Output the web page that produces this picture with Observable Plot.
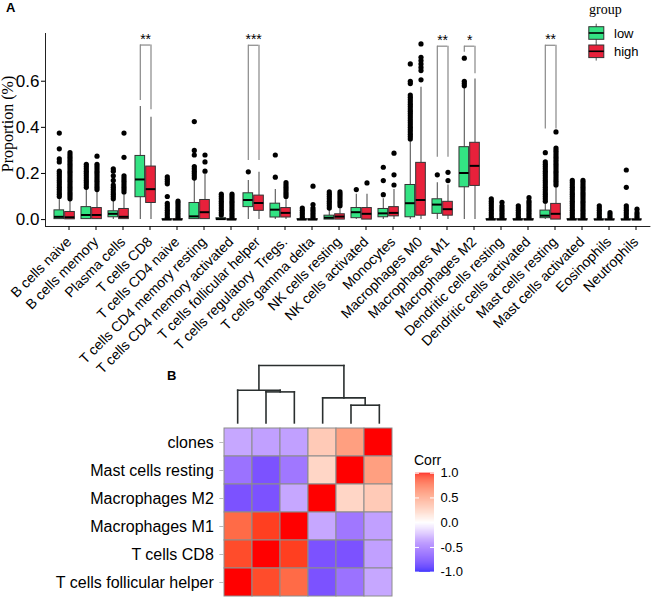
<!DOCTYPE html>
<html><head><meta charset="utf-8">
<script src="https://cdn.jsdelivr.net/npm/d3@7"></script>
<script src="https://cdn.jsdelivr.net/npm/@observablehq/plot@0.6"></script>
<style>
body{margin:0;background:#fff;}
#root{position:relative;width:653px;height:600px;overflow:hidden;font-family:Arial,"Liberation Sans",sans-serif;color:#000;}
#root > *{position:absolute;}
svg text{white-space:pre;}
</style></head><body><div id="root"></div>
<script>
// ---------------- Panel A data ----------------
const categories = ["B cells naive","B cells memory","Plasma cells","T cells CD8","T cells CD4 naive","T cells CD4 memory resting","T cells CD4 memory activated","T cells follicular helper","T cells regulatory  Tregs.","T cells gamma delta","NK cells resting","NK cells activated","Monocytes","Macrophages M0","Macrophages M1","Macrophages M2","Dendritic cells resting","Dendritic cells activated","Mast cells resting","Mast cells activated","Eosinophils","Neutrophils"];
const groups = ["low","high"];
// [q1, median, q3, lower whisker, upper whisker]
const lowStats = [
  [0.002,0.012,0.040,0,0.095],[0.002,0.020,0.054,0,0.13],[0.010,0.025,0.036,0,0.08],[0.097,0.174,0.276,0,0.49],
  [0,0,0.002,0,0.005],[0.002,0.014,0.072,0,0.172],[0,0.002,0.006,0,0.015],[0.054,0.085,0.114,0,0.17],
  [0.009,0.043,0.069,0,0.13],[0,0,0.002,0,0.004],[0,0.008,0.017,0,0.04],[0.006,0.032,0.050,0,0.11],
  [0.010,0.027,0.046,0,0.09],[0.010,0.071,0.150,0,0.34],[0.025,0.065,0.088,0,0.16],[0.140,0.202,0.314,0,0.574],
  [0,0,0.002,0,0.005],[0,0,0.002,0,0.004],[0.006,0.017,0.039,0,0.07],[0,0,0.002,0,0.004],
  [0,0,0.001,0,0.003],[0,0,0.001,0,0.003]
];
const highStats = [
  [0.001,0.010,0.033,0,0.08],[0.002,0.020,0.050,0,0.12],[0.002,0.012,0.046,0,0.11],[0.072,0.132,0.230,0,0.444],
  [0,0,0.002,0,0.004],[0.002,0.032,0.085,0,0.195],[0,0,0.002,0,0.004],[0.038,0.072,0.104,0,0.205],
  [0.009,0.029,0.050,0,0.09],[0,0,0.002,0,0.004],[0,0.013,0.023,0,0.05],[0,0.025,0.050,0,0.11],
  [0.014,0.029,0.054,0,0.13],[0.017,0.085,0.246,0,0.574],[0.017,0.045,0.077,0,0.15],[0.146,0.233,0.333,0,0.61],
  [0,0,0.002,0,0.004],[0,0,0.002,0,0.004],[0,0.025,0.068,0,0.14],[0,0,0.002,0,0.004],
  [0,0,0.001,0,0.003],[0,0,0.001,0,0.003]
];
const lowOutliers = [
  [0.10,0.11,0.12,0.13,0.14,0.15,0.16,0.17,0.18,0.19,0.20,0.21,0.25,0.263,0.307,0.375],
  [0.14,0.15,0.16,0.17,0.18,0.19,0.20,0.21,0.22,0.23,0.24],
  [0.09,0.10,0.11,0.12,0.13,0.14,0.15,0.17,0.19,0.21,0.22],
  [],
  [0.01,0.02,0.03,0.04,0.05,0.06,0.07,0.10,0.155,0.165,0.175,0.185],
  [0.18,0.19,0.20,0.21,0.22,0.23,0.28,0.30,0.425],
  [0.02,0.03,0.04,0.05,0.06,0.07,0.08,0.09,0.10,0.11],
  [0.207],
  [0.184,0.28],
  [0.01,0.02,0.03,0.04,0.05],
  [0.05,0.06,0.07,0.08,0.09,0.10,0.11,0.12],
  [0.13],
  [0.108,0.169,0.227],
  [0.35,0.36,0.37,0.38,0.39,0.40,0.41,0.42,0.43,0.44,0.45,0.46,0.47,0.48,0.49,0.50,0.51,0.52,0.53,0.54,0.59,0.60,0.675],
  [0.194],
  [0.58,0.59,0.60,0.70],
  [0.01,0.02,0.03,0.04,0.05,0.06,0.07,0.08,0.09],
  [0.01,0.02,0.03,0.04,0.05,0.06],
  [0.08,0.09,0.10,0.11,0.12,0.13,0.14,0.15,0.16,0.17,0.18,0.19,0.20,0.21,0.22,0.23,0.24,0.25,0.29],
  [0.01,0.02,0.03,0.04,0.05,0.06,0.07,0.08,0.09,0.10,0.11,0.12,0.13,0.14,0.15,0.16,0.17],
  [0.01,0.02,0.03,0.04,0.05,0.06],
  [0.01,0.02,0.03,0.04,0.05,0.06,0.14,0.215]
];
const highOutliers = [
  [0.09,0.10,0.11,0.12,0.13,0.14,0.15,0.16,0.17,0.18,0.19,0.20,0.21,0.22,0.23,0.24,0.25,0.26,0.27,0.28,0.29],
  [0.13,0.14,0.15,0.16,0.17,0.18,0.19,0.20,0.21,0.22,0.23,0.24,0.275],
  [0.12,0.13,0.14,0.15,0.16,0.17,0.18,0.19,0.27,0.375],
  [],
  [0.01,0.02,0.03,0.04,0.05,0.06,0.07,0.08],
  [0.21,0.25,0.28],
  [0.01,0.02,0.03,0.04,0.05,0.06,0.07,0.08,0.09,0.10,0.11],
  [],
  [0.10,0.11,0.12,0.13,0.14,0.15,0.16],
  [0.01,0.02,0.03,0.04,0.05,0.065,0.145],
  [0.06,0.07,0.08,0.09,0.10,0.11,0.12],
  [0.159],
  [0.15,0.194,0.288],
  [0.606,0.646,0.66,0.675,0.69,0.704,0.762],
  [0.169,0.205],
  [],
  [0.01,0.02,0.03,0.04,0.05,0.06,0.075],
  [0.01,0.02,0.03,0.04,0.05,0.06,0.07,0.08,0.095],
  [0.15,0.16,0.17,0.18,0.19,0.20,0.21,0.22,0.23,0.24,0.25,0.26,0.27,0.28,0.29,0.30,0.31,0.38],
  [0.01,0.02,0.03,0.04,0.05,0.06,0.07,0.08,0.09,0.10,0.11,0.12,0.13,0.14,0.15,0.16,0.17],
  [0.01,0.02,0.03],
  [0.01,0.02,0.03,0.045]
];
const sigCategories = ["T cells CD8","T cells follicular helper","Macrophages M1","Macrophages M2","Mast cells resting"];
const sigLabels = ["**","***","**","*","**"];
const sigLowLeg = [0.516,0.256,0.27,0.726,0.393];
const sigHighLeg = [0.476,0.256,0.27,0.632,0.393];
const sigTop = [0.757,0.756,0.752,0.752,0.756];
const yTicks = [0, 0.2, 0.4, 0.6];

// ---------------- Panel B data ----------------
const heatRows = ["clones","Mast cells resting","Macrophages M2","Macrophages M1","T cells CD8","T cells follicular helper"];
const heatCols = ["T cells follicular helper","T cells CD8","Macrophages M1","Macrophages M2","Mast cells resting","clones"];
const corrValues = [
  [-0.37,-0.40,-0.40, 0.28, 0.50, 1.00],
  [-0.60,-0.74,-0.58, 0.22, 1.00, 0.50],
  [-0.74,-0.74,-0.37, 1.00, 0.22, 0.28],
  [ 0.74, 0.90, 1.00,-0.37,-0.58,-0.40],
  [ 0.86, 1.00, 0.90,-0.74,-0.74,-0.40],
  [ 1.00, 0.86, 0.74,-0.74,-0.60,-0.37]
];
// hclust-style merge table over heatCols (negative = leaf index, positive = earlier merge)
const dendroMerge = [[-2,-3],[-1,1],[-5,-6],[-4,3],[2,4]];
const dendroHeight = [3.10,3.27,1.77,2.50,5.74];
const corrTicks = [-1,-0.5,0,0.5,1];

// ---------------- styles ----------------
const GREEN = "#33E383", RED = "#E8213B";
const colorA = {domain: groups, range: [GREEN, RED]};
const corrColor = {type:"linear", domain:[-1,0,1], range:["#0000FF","#FFFFFF","#FF0000"], interpolate:"lab"};

const root = document.getElementById("root");
function place(el, left, top){ el.style.left = left+"px"; el.style.top = top+"px"; root.appendChild(el); return el; }
function label(text, left, top, css){ const d = document.createElement("div"); d.textContent = text; d.style.cssText = "position:absolute;white-space:pre;"+css; return place(d, left, top); }

// ---------------- Panel A ----------------
const boxes = [], outs = [];
categories.forEach((c,i) => {
  [[lowStats,"low"],[highStats,"high"]].forEach(([s,g]) => {
    const [q1,med,q3,wlo,whi] = s[i];
    boxes.push({cat:c, group:g, q1, med, q3, wlo, whi});
  });
  lowOutliers[i].forEach(v => outs.push({cat:c, group:"low", v}));
  highOutliers[i].forEach(v => outs.push({cat:c, group:"high", v}));
});
const sig = sigCategories.map((c,i) => ({cat:c, label:sigLabels[i], lowLeg:sigLowLeg[i], highLeg:sigHighLeg[i], top:sigTop[i]}));

const half = 13.68;
const geo = {low:{dx:-5.7, iL:half-10.7, iR:half+0.7}, high:{dx:5, iL:half, iR:half-10}};
function groupMarks(g){
  const b = boxes.filter(d => d.group === g), o = outs.filter(d => d.group === g), G = geo[g];
  return [
    Plot.ruleX(b, {x:"cat", y1:"wlo", y2:"q1", dx:G.dx, stroke:"#555", strokeWidth:1.1}),
    Plot.ruleX(b, {x:"cat", y1:"q3", y2:"whi", dx:G.dx, stroke:"#555", strokeWidth:1.1}),
    Plot.barY(b, {x:"cat", y1:"q1", y2:"q3", fill:"group", stroke:"#333", strokeWidth:1, insetLeft:G.iL, insetRight:G.iR}),
    Plot.tickY(b, {x:"cat", y:"med", stroke:"#000", strokeWidth:2, insetLeft:G.iL, insetRight:G.iR}),
    Plot.dot(o, {x:"cat", y:"v", r:2.6, fill:"#000", stroke:null, dx:G.dx})
  ];
}

const plotA = Plot.plot({
  width:653, height:385,
  marginLeft:45, marginRight:3.6, marginTop:33, marginBottom:159,
  style:{fontFamily:"Arial, 'Liberation Sans', sans-serif", color:"#000", background:"transparent"},
  x:{domain:categories, padding:0, insetLeft:2.3},
  y:{domain:[-0.03,0.807]},
  color:colorA,
  marks:[
    Plot.frame({anchor:"left", stroke:"#222"}),
    Plot.frame({anchor:"bottom", stroke:"#222"}),
    Plot.axisY({ticks:yTicks, tickFormat:d3.format(".1f"), fontSize:17, tickSize:4, tickPadding:2, label:null}),
    Plot.axisX({tickRotate:-45, fontSize:14, tickSize:4, tickPadding:9, dx:4, label:null}),
    ...groupMarks("low"),
    ...groupMarks("high"),
    Plot.ruleX(sig, {x:"cat", y1:"lowLeg", y2:"top", dx:geo.low.dx, stroke:"#888", strokeWidth:1.2}),
    Plot.ruleX(sig, {x:"cat", y1:"highLeg", y2:"top", dx:geo.high.dx, stroke:"#888", strokeWidth:1.2}),
    Plot.tickY(sig, {x:"cat", y:"top", stroke:"#888", strokeWidth:1.2, insetLeft:half+geo.low.dx, insetRight:half-geo.high.dx}),
    Plot.text(sig, {x:"cat", y:"top", text:"label", dx:-0.4, dy:-1, lineAnchor:"bottom", fontSize:14, fill:"#000"})
  ]
});
place(plotA, 0, 0);

label("A", 6, 0, "font-size:13px;font-weight:bold;");
label("Proportion (%)", -42, 115, "font-family:'Liberation Serif','Times New Roman',serif;font-size:16px;width:100px;text-align:center;transform:rotate(-90deg);");

// group legend
label("group", 589, 2, "font-family:'Liberation Serif','Times New Roman',serif;font-size:14px;");
const legSvg = d3.create("svg").attr("width",70).attr("height",45).style("position","absolute");
groups.forEach((g,i) => {
  const y0 = 26.7 + i*18.3 - 22;
  const k = legSvg.append("g");
  k.append("line").attr("x1",8.2).attr("x2",8.2).attr("y1",y0-3).attr("y2",y0+15.6).attr("stroke","#555");
  k.append("rect").attr("x",0.8).attr("y",y0).attr("width",15).attr("height",12.6).attr("fill",colorA.range[i]).attr("stroke","#333");
  k.append("line").attr("x1",0.8).attr("x2",15.8).attr("y1",y0+6.3).attr("y2",y0+6.3).attr("stroke","#000").attr("stroke-width",1.6);
  k.append("text").attr("x",26).attr("y",y0+6.3).attr("dy","0.35em").attr("font-size",13).attr("font-family","Arial, 'Liberation Sans', sans-serif").text(g);
});
place(legSvg.node(), 588, 22);

// ---------------- Panel B ----------------
label("B", 167, 368, "font-size:13px;font-weight:bold;");

// dendrogram
const nodePos = [], nodeH = [];
const posOf = r => r < 0 ? -r - 1 : nodePos[r-1];
const hOf = r => r < 0 ? 0 : nodeH[r-1];
const segs = [];
dendroMerge.forEach(([a,b],k) => {
  const pa = posOf(a), pb = posOf(b), h = dendroHeight[k];
  segs.push({x1:pa,y1:hOf(a),x2:pa,y2:h},{x1:pb,y1:hOf(b),x2:pb,y2:h},{x1:pa,y1:h,x2:pb,y2:h});
  nodePos.push((pa+pb)/2); nodeH.push(h);
});
const dendro = Plot.plot({
  width:170, height:59.4, marginLeft:0, marginRight:0, marginTop:2, marginBottom:0,
  style:{background:"transparent", overflow:"visible"},
  x:{domain:[-0.5, heatCols.length-0.5], axis:null},
  y:{domain:[0, d3.max(dendroHeight)], axis:null},
  marks:[Plot.link(segs, {x1:"x1", y1:"y1", x2:"x2", y2:"y2", stroke:"#2a2f2f", strokeWidth:1.6, strokeLinecap:"square"})]
});
place(dendro, 223.3, 363.3);

// heatmap
const heat = [];
heatRows.forEach((r,i) => heatCols.forEach((c,j) => heat.push({row:r, col:c, v:corrValues[i][j]})));
const heatPlot = Plot.plot({
  width:400, height:180, marginLeft:223.3, marginRight:6.7, marginTop:7.3, marginBottom:3.3,
  style:{fontFamily:"Arial, 'Liberation Sans', sans-serif", color:"#000", background:"transparent"},
  x:{domain:heatCols, padding:0, axis:null},
  y:{domain:heatRows, padding:0},
  color:corrColor,
  marks:[
    Plot.axisY({fontSize:16, tickSize:4, tickPadding:6, label:null, stroke:"#bbb"}),
    Plot.cell(heat, {x:"col", y:"row", fill:"v", stroke:"#8c8c8c", strokeWidth:1})
  ]
});
place(heatPlot, 0, 420);

// Corr legend
label("Corr", 414, 452, "font-size:14px;");
const legendSteps = d3.range(-1, 1, 0.02);
const corrLegend = Plot.plot({
  width:60, height:130, marginLeft:10, marginRight:31, marginTop:22.7, marginBottom:8.3,
  style:{fontFamily:"Arial, 'Liberation Sans', sans-serif", color:"#000", background:"transparent"},
  x:{domain:[0,1], axis:null},
  y:{domain:[-1,1]},
  color:corrColor,
  marks:[
    Plot.rect(legendSteps, {x1:0, x2:1, y1:d=>d, y2:d=>d+0.0205, fill:d=>d+0.01}),
    Plot.tickY(corrTicks, {y:d=>d, stroke:"#fff", strokeWidth:1, insetRight:15}),
    Plot.tickY(corrTicks, {y:d=>d, stroke:"#fff", strokeWidth:1, insetLeft:15}),
    Plot.axisY({anchor:"right", ticks:corrTicks, tickFormat:d => d.toFixed(1), tickSize:0, tickPadding:6, fontSize:13, label:null})
  ]
});
place(corrLegend, 405, 450);
</script></body></html>
